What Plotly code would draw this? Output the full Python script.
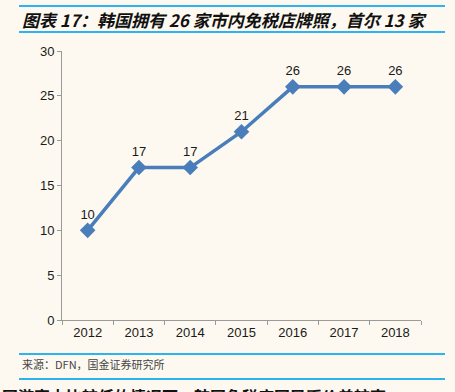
import plotly.graph_objects as go

years = ["2012", "2013", "2014", "2015", "2016", "2017", "2018"]
licenses = [10, 17, 17, 21, 26, 26, 26]
y_ticks = [0, 5, 10, 15, 20, 25, 30]

W, H = 455, 392
L, R, T, B = 62, 34, 51, 72
bg = "#FDF9F0"
line_blue = "#4A7EBB"
rule_blue = "#2DB3EE"

fig = go.Figure()
fig.add_trace(go.Scatter(
    x=years, y=licenses,
    mode="lines+markers+text",
    line=dict(color=line_blue, width=3.5),
    marker=dict(symbol="diamond", size=12, color=line_blue),
    text=[str(v) for v in licenses],
    textposition="top center",
    textfont=dict(family="Liberation Sans, Arial", size=13, color="#1a1a1a"),
    cliponaxis=False,
    hoverinfo="skip",
))

fig.update_layout(
    width=W, height=H,
    paper_bgcolor=bg, plot_bgcolor=bg,
    margin=dict(l=L, r=R, t=T, b=B),
    showlegend=False,
    xaxis=dict(
        type="category", range=[-0.5, 6.5],
        showline=True, linecolor="#9a9a9a", linewidth=1,
        ticks="outside", ticklen=4, tickcolor="#9a9a9a",
        tickson="boundaries",
        showgrid=False, zeroline=False,
        tickfont=dict(family="Liberation Sans, Arial", size=13, color="#1a1a1a"),
    ),
    yaxis=dict(
        range=[0, 30], tickvals=y_ticks,
        showline=True, linecolor="#9a9a9a", linewidth=1,
        ticks="outside", ticklen=4, tickcolor="#9a9a9a",
        showgrid=False, zeroline=False,
        tickfont=dict(family="Liberation Sans, Arial", size=13, color="#1a1a1a"),
    ),
    font=dict(family="Noto Sans CJK SC"),
)


def px_x(x):
    return (x - L) / (W - L - R)


def px_y(y):
    return (H - B - y) / (H - T - B)


# horizontal rules
for yy in [6, 32, 354, 379]:
    fig.add_shape(type="line", xref="paper", yref="paper",
                  x0=px_x(19), x1=px_x(445),
                  y0=px_y(yy), y1=px_y(yy),
                  line=dict(color=rule_blue, width=2))

fig.add_annotation(
    xref="paper", yref="paper", x=px_x(20), y=px_y(19),
    xanchor="left", yanchor="middle", showarrow=False,
    text="<b><i>图表 17：韩国拥有 26 家市内免税店牌照，首尔 13 家</i></b>",
    font=dict(family="Noto Sans CJK SC", size=17, color="#111111"),
)
fig.add_annotation(
    xref="paper", yref="paper", x=px_x(20), y=px_y(364),
    xanchor="left", yanchor="middle", showarrow=False,
    text="来源：DFN，国金证券研究所",
    font=dict(family="Noto Sans CJK SC", size=11, color="#444444"),
)
fig.add_annotation(
    xref="paper", yref="paper", x=px_x(0), y=px_y(382),
    xanchor="left", yanchor="top", showarrow=False,
    text="<b>国游客占比较低的情况下，韩国免税店国民币价差较高</b>",
    font=dict(family="Noto Sans CJK SC", size=16, color="#111111"),
)

fig.write_html("out.html", config={"displayModeBar": False},
               post_script="document.body.style.margin='0';")
